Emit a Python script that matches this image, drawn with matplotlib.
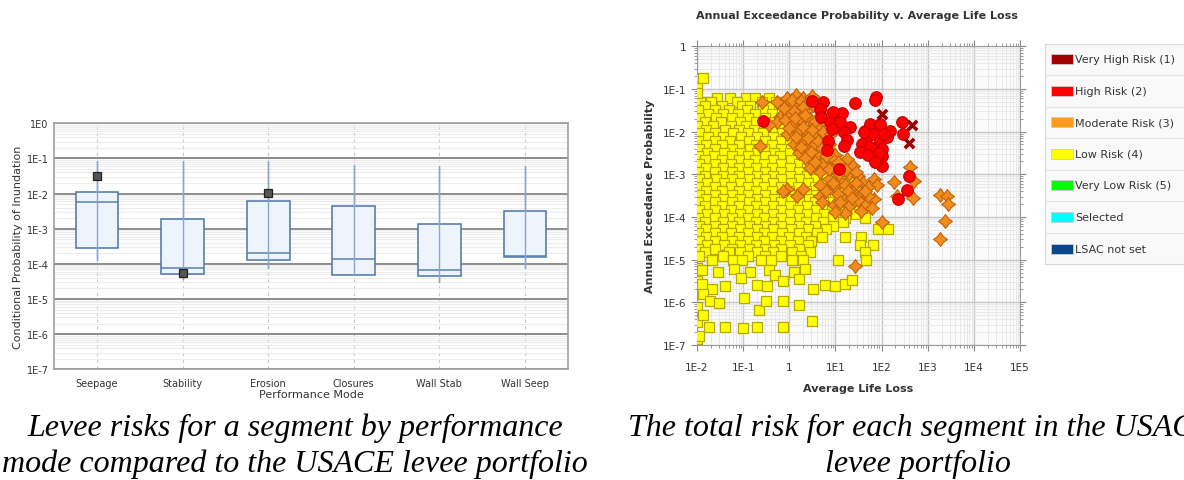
import numpy as np
import matplotlib
matplotlib.use("Agg")
import matplotlib.pyplot as plt
from matplotlib.path import Path
from matplotlib.patches import Rectangle
from matplotlib.ticker import FixedLocator, LogLocator, NullFormatter

# ---- left chart: conditional probability of inundation by performance mode
modes = ["Seepage", "Stability", "Erosion", "Closures", "Wall Stab", "Wall Seep"]
whis_hi = [0.087, 0.083, 0.087, 0.063, 0.060, 0.060]
box_hi = [0.011, 1.85e-3, 6.2e-3, 4.3e-3, 1.35e-3, 3.2e-3]
box_med = [5.6e-3, 7.4e-5, 2.1e-4, 1.35e-4, 6.8e-5, 1.67e-4]
box_lo = [2.8e-4, 5.0e-5, 1.26e-4, 4.8e-5, 4.4e-5, 1.58e-4]
whis_lo = [1.3e-4, 3.7e-5, 7.8e-5, 4.8e-5, 3.0e-5, 7.4e-5]
seg_mode = ["Seepage", "Stability", "Erosion"]
seg_value = [0.031, 5.4e-5, 0.0102]

# ---- right chart: portfolio scatter, log10 of (average life loss, AEP)
# low risk squares, read row by row (log10 AEP, [log10 life loss ...])
low_rows = [
    (-1.22, [-1.57, -1.29, -0.94, -0.75, -0.45]),
    (-1.31, [-1.93, -1.70, -1.14, -0.60, -0.28]),
    (-1.40, [-1.82, -1.45, -1.02, -0.85, -0.40, -0.05]),
    (-1.50, [-1.97, -1.62, -1.30, -0.92, -0.58, -0.22, 0.08]),
    (-1.59, [-1.76, -1.44, -1.12, -0.74, -0.38, -0.02]),
    (-1.68, [-1.95, -1.58, -1.24, -0.90, -0.52, -0.18, 0.15]),
    (-1.77, [-1.83, -1.47, -1.06, -0.72, -0.33, 0.02, 0.30]),
    (-1.86, [-1.99, -1.66, -1.27, -0.93, -0.55, -0.20, 0.18]),
    (-1.95, [-1.80, -1.40, -1.09, -0.76, -0.38, 0.00, 0.36]),
    (-2.04, [-1.96, -1.60, -1.22, -0.90, -0.56, -0.15, 0.20, 0.50]),
    (-2.13, [-1.76, -1.43, -1.05, -0.71, -0.35, 0.05, 0.38, 0.62]),
    (-2.22, [-1.97, -1.62, -1.28, -0.88, -0.53, -0.17, 0.22, 0.52]),
    (-2.31, [-1.81, -1.46, -1.08, -0.72, -0.38, 0.02, 0.36, 0.70]),
    (-2.40, [-1.95, -1.60, -1.25, -0.86, -0.54, -0.19, 0.19, 0.55, 0.85]),
    (-2.49, [-1.79, -1.42, -1.06, -0.70, -0.34, 0.01, 0.38, 0.72]),
    (-2.58, [-1.98, -1.64, -1.24, -0.89, -0.53, -0.20, 0.20, 0.56, 0.92]),
    (-2.67, [-1.83, -1.45, -1.08, -0.74, -0.35, 0.03, 0.42, 0.76, 1.05]),
    (-2.76, [-1.96, -1.61, -1.26, -0.90, -0.55, -0.17, 0.21, 0.58, 0.92]),
    (-2.85, [-1.80, -1.43, -1.10, -0.72, -0.37, 0.02, 0.39, 0.75, 1.12]),
    (-2.94, [-1.97, -1.62, -1.25, -0.89, -0.52, -0.19, 0.20, 0.57, 0.94, 1.25]),
    (-3.03, [-1.82, -1.44, -1.09, -0.71, -0.36, 0.01, 0.38, 0.76, 1.10, 1.45]),
    (-3.12, [-1.95, -1.58, -1.24, -0.88, -0.53, -0.17, 0.21, 0.58, 0.93, 1.30]),
    (-3.21, [-1.79, -1.42, -1.06, -0.70, -0.35, 0.03, 0.40, 0.76, 1.12, 1.48]),
    (-3.30, [-1.98, -1.61, -1.26, -0.90, -0.55, -0.18, 0.19, 0.56, 0.93, 1.28]),
    (-3.39, [-1.81, -1.45, -1.08, -0.73, -0.37, 0.00, 0.37, 0.74, 1.10, 1.46]),
    (-3.48, [-1.96, -1.62, -1.25, -0.89, -0.52, -0.16, 0.22, 0.58, 0.95, 1.30]),
    (-3.57, [-1.80, -1.43, -1.07, -0.71, -0.34, 0.03, 0.40, 0.77, 1.13, 1.50]),
    (-3.66, [-1.97, -1.60, -1.24, -0.88, -0.53, -0.18, 0.20, 0.56, 0.94, 1.32, 1.70]),
    (-3.75, [-1.83, -1.46, -1.09, -0.72, -0.36, 0.01, 0.38, 0.75, 1.12, 1.48]),
    (-3.84, [-1.95, -1.61, -1.26, -0.90, -0.55, -0.19, 0.19, 0.57, 0.93, 1.30, 1.62]),
    (-3.93, [-1.79, -1.42, -1.06, -0.71, -0.35, 0.02, 0.39, 0.76, 1.14, 1.45]),
    (-4.02, [-1.98, -1.62, -1.25, -0.89, -0.54, -0.17, 0.21, 0.58, 0.95, 1.20, 1.64]),
    (-4.11, [-1.82, -1.44, -1.08, -0.72, -0.36, 0.01, 0.37, 0.74, 1.17]),
    (-4.20, [-1.96, -1.60, -1.24, -0.88, -0.52, -0.18, 0.20, 0.56, 0.95]),
    (-4.29, [-1.80, -1.43, -1.07, -0.70, -0.35, 0.03, 0.40, 0.80, 1.93, 2.14]),
    (-4.38, [-1.97, -1.61, -1.26, -0.89, -0.54, -0.16, 0.22, 0.60]),
    (-4.47, [-1.81, -1.45, -1.08, -0.71, -0.37, 0.00, 0.36, 0.70, 1.20, 1.55]),
    (-4.56, [-1.95, -1.62, -1.25, -0.90, -0.55, -0.19, 0.19, 0.48]),
    (-4.65, [-1.79, -1.42, -1.06, -0.72, -0.34, 0.02, 0.40, 1.54, 1.82]),
    (-4.74, [-1.98, -1.60, -1.24, -0.88, -0.53, -0.17, 0.20]),
    (-4.83, [-1.82, -1.30, -1.07, -0.70, -0.36, 0.05, 0.45, 1.64]),
    (-4.92, [-1.96, -1.44, -0.89, -0.52, -0.18, 0.25]),
    (-5.01, [-1.68, -1.22, -1.03, -0.62, -0.40, 0.05, 0.30, 1.06, 1.67]),
]
low_sparse_lx = [-2.00, -2.00, -2.00, -1.86, -2.00, -2.00, -2.00, -2.00, -2.00,
                 -1.90, -1.55, -1.20, -0.85, -0.45, 0.10, 0.35,
                 -1.90, -1.68, -1.39, -1.05, -0.71, -0.49, -0.32, -0.13, 0.21, 0.52, 0.78, 0.99, 1.20, 1.35,
                 -1.88, -1.72, -1.52, -0.98, -0.66, -0.51, -0.13, 0.21,
                 -1.88, 0.49, -1.75, -1.39, -1.01, -0.69, -0.14, -1.95]
low_sparse_ly = [-0.77, -0.95, -1.10, -0.74, -5.20, -5.50, -6.10, -6.45, -6.85,
                 -5.25, -5.30, -5.22, -5.28, -5.25, -5.30, -5.22,
                 -5.57, -5.68, -5.61, -5.42, -5.59, -5.62, -5.36, -5.51, -5.45, -5.68, -5.59, -5.62, -5.57, -5.47,
                 -5.80, -5.96, -6.02, -5.90, -6.19, -5.96, -5.96, -6.06,
                 -6.29, -6.44, -6.57, -6.57, -6.59, -6.57, -6.57, -6.78]

mod_lx = [-0.27, -0.05, 0.15, 0.30, 0.49, 0.35, 0.10, -0.20, -0.27, 0.00, 0.20, 0.40, 0.60, 0.80,
          0.05, 0.25, 0.45, 0.65, 0.20, 0.40, -0.05, 0.55, 0.74, 0.30, -0.64, 0.10, 0.38, 0.55,
          0.60, 0.85, 0.20, 1.00, 1.25, 0.95, 1.15, 1.39, 0.70, 0.45, 1.03, 0.67, 1.30, 1.50,
          0.85, 1.10, 1.60, 1.83, 1.90, 0.67, 1.00, 1.35, -0.05, 0.30, -0.13, 0.16, 0.67, 1.39,
          1.55, 1.20, 1.83, 0.96, 1.65, 2.00, 1.43, 2.26, 2.33, 2.62, 2.70, 2.68, 3.27, 3.42,
          3.43, 3.38, 3.27,
          0.05, 0.25, 0.42, -0.12, 0.10, 0.30, 0.52, 0.72, -0.10, 0.12, 0.35, 0.55, 0.78, 0.00,
          0.30, 0.50, 0.72, 0.90, 0.15, 0.40, 0.62, 0.85, 0.25, 0.48, 0.70, 0.92, 0.35, 0.55,
          0.80, 1.05, 0.85, 1.08, 1.22, 1.45, 0.95, 1.20, 1.45, 1.70, 0.80, 1.05, 1.28, 1.50,
          1.70, 0.70, 1.10, 1.30, 1.55, 1.80, 1.20, 1.00, 1.65, 1.35, -0.45, -0.60]
mod_ly = [-1.31, -1.20, -1.15, -1.20, -1.16, -1.35, -1.40, -1.66, -1.78, -1.60, -1.55, -1.50, -1.45, -1.62,
          -1.85, -1.75, -1.70, -1.85, -1.95, -2.00, -2.05, -2.10, -2.17, -2.20, -2.33, -2.30, -2.40, -2.30,
          -2.55, -2.45, -2.50, -2.55, -2.64, -2.75, -2.80, -2.80, -2.75, -2.85, -2.95, -2.95, -3.00, -3.05,
          -3.10, -3.15, -3.20, -3.11, -3.26, -3.26, -3.30, -3.30, -3.34, -3.35, -3.38, -3.50, -3.50, -3.42,
          -3.45, -3.55, -3.58, -3.73, -3.70, -4.12, -5.14, -3.19, -3.50, -2.83, -3.15, -3.56, -3.48, -3.50,
          -3.69, -4.10, -4.51,
          -1.25, -1.28, -1.30, -1.45, -1.52, -1.42, -1.38, -1.55, -1.72, -1.68, -1.62, -1.75, -1.80, -1.92,
          -1.88, -1.95, -2.00, -2.05, -2.12, -2.15, -2.22, -2.28, -2.35, -2.48, -2.38, -2.62, -2.62, -2.70,
          -2.58, -2.70, -2.88, -3.00, -2.90, -2.95, -3.20, -3.25, -3.20, -3.30, -3.40, -3.45, -3.40, -3.60,
          -3.50, -3.65, -3.65, -3.75, -3.85, -3.80, -3.90, -3.88, -3.40, -3.55, -1.85, -1.30]

high_lx = [-0.56, 0.49, 0.73, 0.67, 0.68, 1.14, 1.42, 1.87, 1.85, 0.89, 1.10, 1.31, 0.92, 1.18,
           1.26, 0.83, 1.18, 0.81, 1.64, 1.75, 1.97, 2.19, 1.68, 1.83, 1.97, 2.11, 1.57, 1.75,
           2.00, 1.53, 2.00, 2.44, 2.46, 1.07, 2.59, 2.35, 2.55, 2.00, 1.90, 1.95,
           1.70, 1.85, 2.05, 1.62, 0.95]
high_ly = [-1.76, -1.29, -1.31, -1.47, -1.66, -1.56, -1.33, -1.19, -1.27, -1.78, -1.78, -1.90, -1.94, -2.01,
           -2.19, -2.23, -2.34, -2.44, -1.98, -1.82, -1.82, -1.98, -2.13, -2.05, -2.21, -2.13, -2.29, -2.37,
           -2.41, -2.47, -2.56, -1.78, -2.05, -2.87, -3.03, -3.58, -3.36, -2.80, -2.65, -2.50,
           -2.55, -2.70, -2.05, -2.00, -1.55]

vhigh_lx = [2.00, 2.65, 2.60]
vhigh_ly = [-1.59, -1.84, -2.26]

legend_labels = ["Very High Risk (1)", "High Risk (2)", "Moderate Risk (3)", "Low Risk (4)",
                 "Very Low Risk (5)", "Selected", "LSAC not set"]
legend_colors = ["#a50000", "#ff0000", "#ff9a1a", "#ffff00", "#00ff00", "#00ffff", "#0a468c"]

low_lx = [x for y, xs in low_rows for x in xs] + low_sparse_lx
low_ly = [y for y, xs in low_rows for x in xs] + low_sparse_ly

W, H = 1184, 481
fig = plt.figure(figsize=(W / 100, H / 100), dpi=100)
plt.rcParams['font.family'] = ['DejaVu Sans']

def frac(x0, y0, x1, y1):
    return [x0 / W, 1 - y1 / H, (x1 - x0) / W, (y1 - y0) / H]

# ================= box plot =================
ax = fig.add_axes(frac(54.3, 124.3, 567.7, 370.3))
stats = []
for i, m in enumerate(modes):
    stats.append(dict(label=m, med=box_med[i], q1=box_lo[i], q3=box_hi[i],
                      whislo=whis_lo[i], whishi=whis_hi[i], fliers=[]))
pos = np.arange(len(modes))
ax.bxp(stats, positions=pos, widths=0.5, patch_artist=True, showcaps=False,
       boxprops=dict(facecolor="#eef4fc", edgecolor="#4a73aa", linewidth=1.1),
       medianprops=dict(color="#5a80b4", linewidth=1.1),
       whiskerprops=dict(color="#8aa6cc", linewidth=1.0), zorder=3)
ax.vlines(pos, whis_lo, whis_hi, color="#8aa6cc", lw=1.0, zorder=3.5)
ax.set_yscale("log")
ax.set_ylim(1e-7, 1)
ax.set_xlim(-0.5, len(modes) - 0.5)
ax.plot([modes.index(m) for m in seg_mode], seg_value, ls="none", marker="s",
        ms=6, mfc="#555555", mec="#222222", mew=0.9, zorder=5)
ax.yaxis.set_major_locator(FixedLocator([10.0 ** -k for k in range(8)]))
ax.set_yticklabels(["1E0"] + ["1E-%d" % k for k in range(1, 8)])
ax.yaxis.set_minor_locator(LogLocator(base=10, subs=np.arange(2, 10), numticks=20))
ax.yaxis.set_minor_formatter(NullFormatter())
ax.grid(which="major", axis="y", color="#8c8c8c", lw=1.4)
ax.grid(which="minor", axis="y", color="#ececec", lw=0.8)
for p in pos:
    ax.axvline(p, color="#c8c8c8", lw=0.8, ls=(0, (3, 3)), zorder=0)
ax.set_xticks(pos)
ax.set_xticklabels(modes)
ax.tick_params(axis="both", which="both", length=0, labelsize=7, colors="#333333", pad=4)
ax.tick_params(axis="x", pad=6)
for s in ax.spines.values():
    s.set_color("#a0a0a0")
    s.set_linewidth(1.2)
ax.set_xlabel("Performance Mode", fontsize=8, color="#333333", labelpad=1)
ax.set_ylabel("Conditional Probability of Inundation", fontsize=8, color="#333333", labelpad=3)

# ================= scatter =================
sx = fig.add_axes(frac(697, 47.3, 1020, 346))
sx.set_facecolor("#fbfbfb")
star = Path([(0, 1), (0.42, 0.42), (1, 0), (0.42, -0.42), (0, -1), (-0.42, -0.42), (-1, 0), (-0.42, 0.42), (0, 1)],
            [Path.MOVETO] + [Path.LINETO] * 7 + [Path.CLOSEPOLY])
sx.scatter(10.0 ** np.array(low_lx), 10.0 ** np.array(low_ly), marker="s", s=48,
           c="#ffff00", edgecolors="#b5a800", linewidths=0.9, zorder=3)
sx.scatter(10.0 ** np.array(mod_lx), 10.0 ** np.array(mod_ly), marker=star, s=100,
           c="#f28c1c", edgecolors="#c0620a", linewidths=0.8, zorder=4)
sx.scatter(10.0 ** np.array(high_lx), 10.0 ** np.array(high_ly), marker="o", s=70,
           c="#ff0000", edgecolors="#c40000", linewidths=0.8, zorder=5)
sx.scatter(10.0 ** np.array(vhigh_lx), 10.0 ** np.array(vhigh_ly), marker="x", s=45,
           c="#9a0000", linewidths=2.6, zorder=6)
sx.set_xscale("log")
sx.set_yscale("log")
sx.set_xlim(1e-2, 1e5)
sx.set_ylim(1e-7, 1)
sx.xaxis.set_major_locator(FixedLocator([10.0 ** k for k in range(-2, 6)]))
sx.set_xticklabels(["1E-2", "1E-1", "1", "1E1", "1E2", "1E3", "1E4", "1E5"])
sx.yaxis.set_major_locator(FixedLocator([10.0 ** -k for k in range(8)]))
sx.set_yticklabels(["1"] + ["1E-%d" % k for k in range(1, 8)])
for a in (sx.xaxis, sx.yaxis):
    a.set_minor_locator(LogLocator(base=10, subs=np.arange(2, 10), numticks=20))
    a.set_minor_formatter(NullFormatter())
sx.grid(which="major", color="#c6c6c6", lw=1.0)
sx.grid(which="minor", color="#e6e6e6", lw=0.6)
sx.set_axisbelow(True)
sx.tick_params(which="both", direction="out", top=True, right=True, colors="#888888",
               labelcolor="#333333", labelsize=7.5)
sx.tick_params(which="major", length=4)
sx.tick_params(which="minor", length=2)
sx.tick_params(axis="x", pad=8)
for s in sx.spines.values():
    s.set_color("#9a9a9a")
sx.set_xlabel("Average Life Loss", fontsize=8, fontweight="bold", color="#333333", labelpad=8)
sx.set_ylabel("Annual Exceedance Probability", fontsize=8, fontweight="bold", color="#333333", labelpad=6)
fig.text(857 / W, 1 - 16 / H, "Annual Exceedance Probability v. Average Life Loss",
         ha="center", va="center", fontsize=8, fontweight="bold", color="#333333")

# ================= legend panel =================
lg = fig.add_axes(frac(1045, 45, 1184, 265))
lg.set_xlim(0, 139)
lg.set_ylim(220, 0)
lg.set_facecolor("#f9f9f9")
lg.spines["right"].set_visible(False)
for s in ("left", "top", "bottom"):
    lg.spines[s].set_color("#d8d8d8")
lg.set_xticks([])
lg.set_yticks([])
for i, (lab, col) in enumerate(zip(legend_labels, legend_colors)):
    yc = 15 + i * 31.6
    lg.add_patch(Rectangle((6, yc - 5), 22, 10, facecolor=col, edgecolor="#cccccc", lw=0.6))
    lg.text(30, yc, lab, va="center", ha="left", fontsize=8, color="#333333")
    if i < len(legend_labels) - 1:
        lg.axhline(yc + 16, color="#e4e4e4", lw=0.8)

# ================= captions =================
cap = dict(va="center", fontsize=23, style="italic",
           family=["Liberation Serif", "DejaVu Serif"], color="#000000")
fig.text(295 / W, 1 - 428 / H, "Levee risks for a segment by performance", ha="center", **cap)
fig.text(295 / W, 1 - 464 / H, "mode compared to the USACE levee portfolio", ha="center", **cap)
fig.text(628 / W, 1 - 428 / H, "The total risk for each segment in the USACE", ha="left", **cap)
fig.text(918 / W, 1 - 464 / H, "levee portfolio", ha="center", **cap)

fig.savefig("out.png", dpi=100)
